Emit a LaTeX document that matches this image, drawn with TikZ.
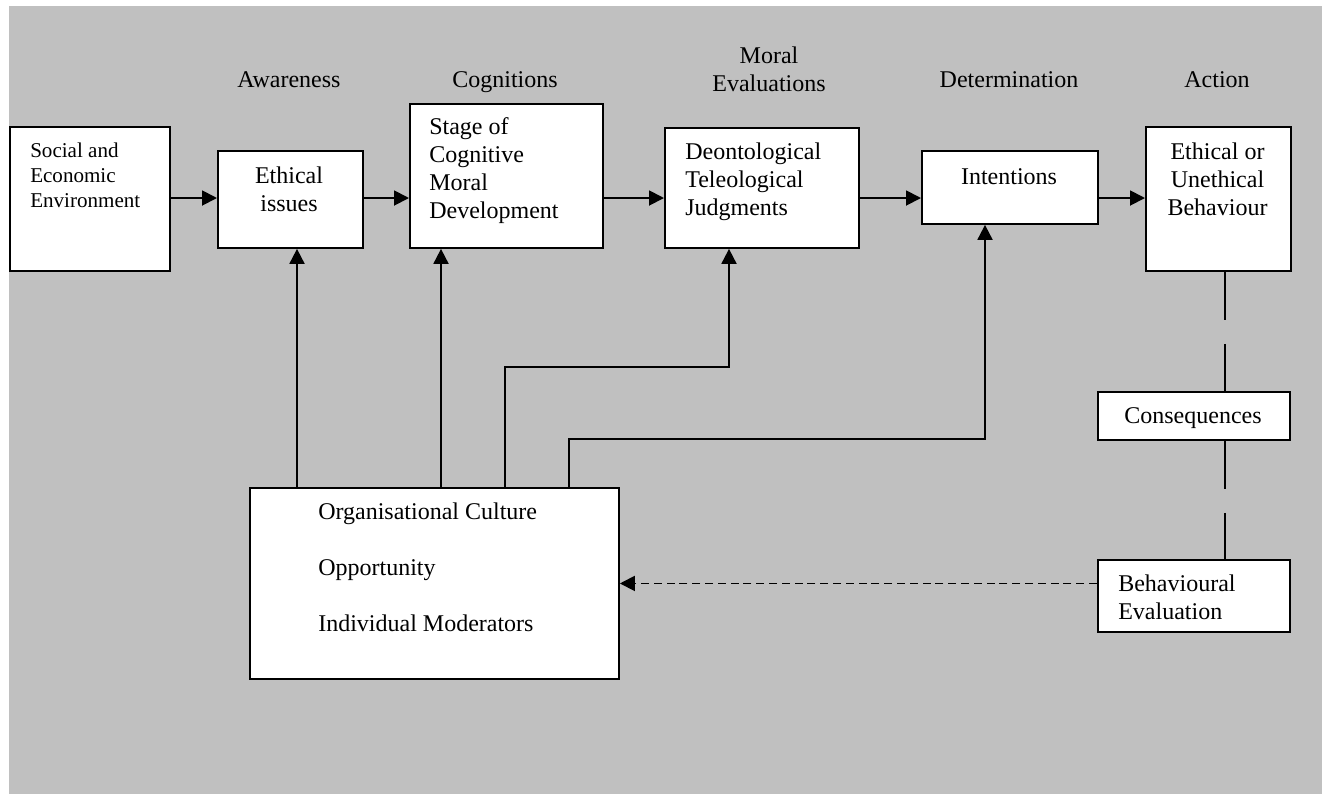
\documentclass[tikz,border=0pt]{standalone}
\usepackage{fontspec}
\setmainfont{Liberation Serif}
\usetikzlibrary{arrows.meta}
\definecolor{panel}{RGB}{192,192,192}
\begin{document}
\begin{tikzpicture}[x=0.75pt,y=-0.75pt,
  box/.style={draw=black, line width=1.4pt, fill=white, inner sep=0pt, anchor=north west},
  txt/.style={inner sep=0pt, font=\fontsize{18}{21}\selectfont},
  smalltxt/.style={inner sep=0pt, font=\fontsize{15.8}{18.75}\selectfont},
  link/.style={line width=1.4pt},
  arr/.style={link, -{Triangle[length=11.25pt,width=11.25pt]}},
  feedback/.style={link, dash pattern=on 6pt off 3.6pt, -{Triangle[length=11.25pt,width=11.25pt]}},
  longdash/.style={link, dash pattern=on 36pt off 18pt}
]
\useasboundingbox (0,0) rectangle (1328,794);
\fill[panel] (9,6) rectangle (1322,794);

% boxes
\node[box, minimum width=120pt,    minimum height=108pt]    (soc)  at (9,126)    {};
\node[box, minimum width=108.75pt, minimum height=72.75pt]  (eth)  at (217,150)  {};
\node[box, minimum width=144.75pt, minimum height=108pt]    (stg)  at (409,103)  {};
\node[box, minimum width=145.5pt,  minimum height=90pt]     (deo)  at (664,127)  {};
\node[box, minimum width=132pt,    minimum height=54.75pt]  (int)  at (921,150)  {};
\node[box, minimum width=108.75pt, minimum height=108pt]    (act)  at (1145,126) {};
\node[box, minimum width=144pt,    minimum height=36pt]     (cons) at (1097,391) {};
\node[box, minimum width=144pt,    minimum height=54pt]     (beh)  at (1097,559) {};
\node[box, minimum width=276.75pt, minimum height=143.25pt] (org)  at (249,487)  {};

% stage headings
\node[txt, anchor=base] (hAw)  at (289,87)   {\parbox[t]{120pt}{\centering Awareness}};
\node[txt, anchor=base] (hCo)  at (505,87)   {\parbox[t]{120pt}{\centering Cognitions}};
\node[txt, anchor=base] (hMo)  at (769,63)   {\parbox[t]{120pt}{\centering Moral\\Evaluations}};
\node[txt, anchor=base] (hDe)  at (1009,87)  {\parbox[t]{120pt}{\centering Determination}};
\node[txt, anchor=base] (hAc)  at (1217,87)  {\parbox[t]{120pt}{\centering Action}};

% box texts
\node[smalltxt, anchor=base west] (tSoc) at (30,157)  {\parbox[t]{110pt}{\raggedright Social and\\Economic\\Environment}};
\node[txt, anchor=base] (tEth)  at (289,183)  {\parbox[t]{100pt}{\centering Ethical\\issues}};
\node[txt, anchor=base west] (tStg) at (429,134) {\parbox[t]{130pt}{\raggedright Stage of\\Cognitive\\Moral\\Development}};
\node[txt, anchor=base west] (tDeo) at (685,159) {\parbox[t]{130pt}{\raggedright Deontological\\Teleological\\Judgments}};
\node[txt, anchor=base] (tInt)  at (1009,184) {\parbox[t]{120pt}{\centering Intentions}};
\node[txt, anchor=base] (tAct)  at (1217.5,159) {\parbox[t]{100pt}{\centering Ethical or\\Unethical\\Behaviour}};
\node[txt, anchor=base] (tCons) at (1193,423) {\parbox[t]{130pt}{\centering Consequences}};
\node[txt, anchor=base west] (tBeh) at (1118,591) {\parbox[t]{120pt}{\raggedright Behavioural\\Evaluation}};
\node[txt, anchor=base west] (tOrg) at (318,519) {\parbox[t]{250pt}{\raggedright Organisational Culture\\[21pt]Opportunity\\[21pt]Individual Moderators}};

% helper coordinates for connector routing
\coordinate (row) at (0,198);
\coordinate (k1) at (297,0);
\coordinate (k2) at (441,0);
\coordinate (k3) at (505,367);
\coordinate (k3t) at (729,367);
\coordinate (k4) at (569,439);
\coordinate (k4t) at (985,439);
\coordinate (vx) at (1225,0);

% main chain
\draw[arr] (soc.east |- row) -- (eth.west |- row);
\draw[arr] (eth.east |- row) -- (stg.west |- row);
\draw[arr] (stg.east |- row) -- (deo.west |- row);
\draw[arr] (deo.east |- row) -- (int.west |- row);
\draw[arr] (int.east |- row) -- (act.west |- row);

% influences of the moderators
\draw[arr] (org.north -| k1) -- (eth.south -| k1);
\draw[arr] (org.north -| k2) -- (stg.south -| k2);
\draw[arr] (org.north -| k3) -- (k3) -- (k3t) -- (deo.south -| k3t);
\draw[arr] (org.north -| k4) -- (k4) -- (k4t) -- (int.south -| k4t);

% consequences chain
\draw[longdash] (act.south -| vx) -- (cons.north -| vx);
\draw[longdash] (cons.south -| vx) -- (beh.north -| vx);

% feedback
\draw[feedback] (beh.west |- org.east) -- (org.east);
\end{tikzpicture}
\end{document}
